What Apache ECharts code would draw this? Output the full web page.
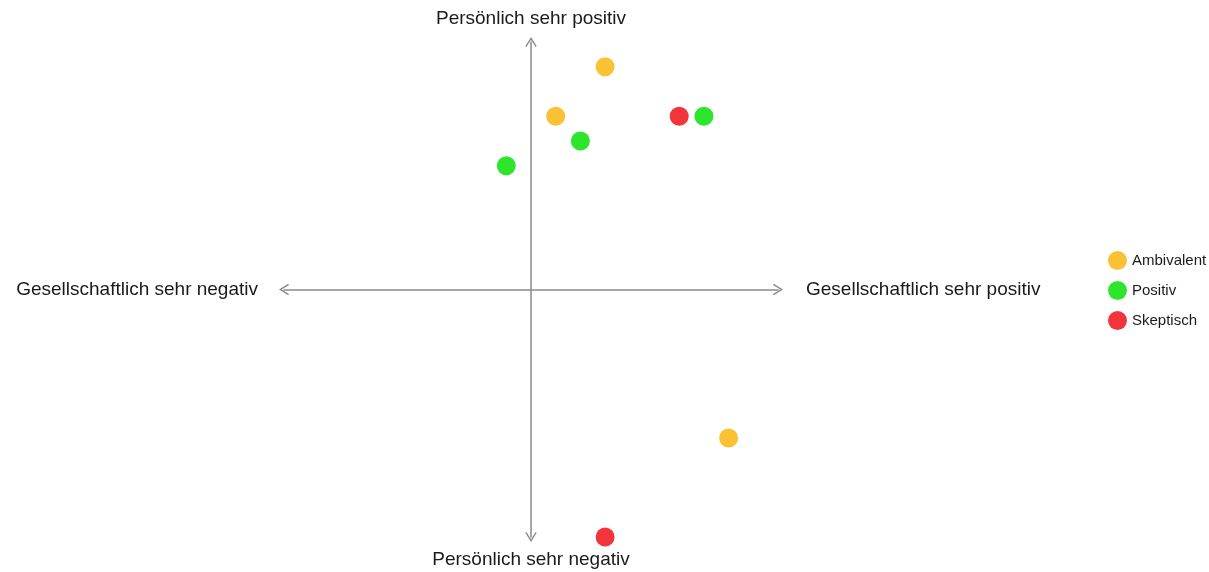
<!DOCTYPE html>
<html>
<head>
<meta charset="utf-8">
<script src="https://cdn.jsdelivr.net/npm/echarts@6/dist/echarts.min.js"></script>
<style>
  html, body { margin: 0; padding: 0; background: #fff; }
  #chart { width: 1209px; height: 572px; }
</style>
</head>
<body>
<div id="chart"></div>
<script>
// x: gesellschaftlich (-5 .. 5), y: persönlich (-5 .. 5)
const seriesNames = ["Ambivalent", "Positiv", "Skeptisch"];
const seriesColors = ["#FBC135", "#2EE52E", "#F2353B"];
const ambivalentPoints = [[1.5, 4.5], [0.5, 3.5], [4, -3]];
const positivPoints = [[1, 3], [-0.5, 2.5], [3.5, 3.5]];
const skeptischPoints = [[3, 3.5], [1.5, -5]];
const axisLabels = {
  xEnd: "Gesellschaftlich sehr positiv",
  xStart: "Gesellschaftlich sehr negativ",
  yEnd: "Persönlich sehr positiv",
  yStart: "Persönlich sehr negativ",
};

const chevron = "path://M5,0 L10,8 L9,8.7 L5,2.3 L1,8.7 L0,8 Z";
const axisColor = "#8a8a8a";
const fontFamily = "'Liberation Sans', Arial, sans-serif";
const nameStyle = { color: "#1a1a1a", fontSize: 19, fontFamily: fontFamily };

function baseAxis(extra) {
  return Object.assign({
    type: "value",
    min: -5,
    max: 5,
    axisTick: { show: false },
    axisLabel: { show: false },
    splitLine: { show: false },
    nameTextStyle: nameStyle,
  }, extra);
}

const chart = echarts.init(document.getElementById("chart"), null, { renderer: "canvas" });

chart.setOption({
  animation: false,
  grid: { left: 284, right: 431, top: 42, bottom: 35 },
  legend: {
    orient: "vertical",
    left: 1103,
    top: 246,
    itemWidth: 19,
    itemHeight: 19,
    itemGap: 11,
    icon: "circle",
    data: seriesNames,
    textStyle: { color: "#1a1a1a", fontSize: 15, fontFamily: fontFamily },
  },
  xAxis: [
    baseAxis({
      name: axisLabels.xEnd,
      nameLocation: "end",
      nameGap: 28,
      axisLine: {
        onZero: true,
        symbol: [chevron, chevron],
        symbolSize: [13, 10],
        lineStyle: { color: axisColor, width: 1.5 },
      },
    }),
    baseAxis({
      name: axisLabels.xStart,
      nameLocation: "start",
      nameGap: 26,
      axisLine: { show: false, onZero: true },
    }),
  ],
  yAxis: [
    baseAxis({
      name: axisLabels.yEnd,
      nameLocation: "end",
      nameGap: 14,
      axisLine: {
        onZero: true,
        symbol: [chevron, chevron],
        symbolSize: [13, 10],
        lineStyle: { color: axisColor, width: 1.5 },
      },
    }),
    baseAxis({
      name: axisLabels.yStart,
      nameLocation: "start",
      nameGap: 13,
      nameTextStyle: Object.assign({}, nameStyle, { verticalAlign: "top" }),
      axisLine: { show: false, onZero: true },
    }),
  ],
  series: [ambivalentPoints, positivPoints, skeptischPoints].map((data, i) => ({
    name: seriesNames[i],
    type: "scatter",
    data: data,
    symbolSize: 19,
    clip: false,
    itemStyle: { color: seriesColors[i], opacity: 1 },
  })),
});
</script>
</body>
</html>
